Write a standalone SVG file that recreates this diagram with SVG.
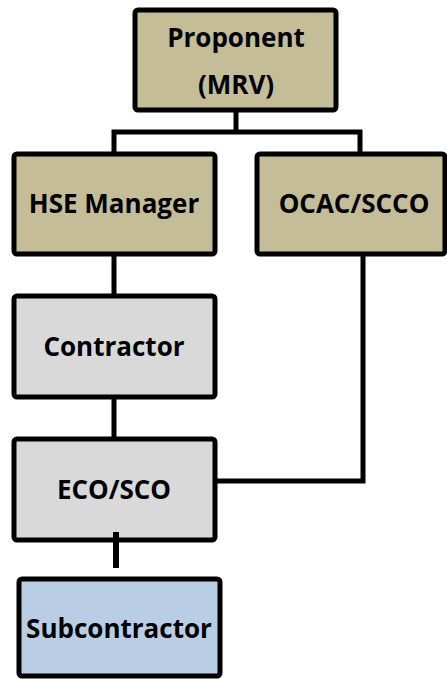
<svg xmlns="http://www.w3.org/2000/svg" width="447" height="679" viewBox="0 0 447 679">
<style>
.box{stroke:#000;stroke-width:5;}
.tan{fill:#C4BD97;}
.gray{fill:#D9D9D9;}
.blue{fill:#B9CDE5;}
.lbl{font-family:"Open Sans","Liberation Sans",sans-serif;font-weight:bold;font-size:26px;fill:#000;text-anchor:middle;dominant-baseline:central;}
.ln{stroke:#000;stroke-width:5;fill:none;}
</style>
<rect width="447" height="679" fill="#fff"/>
<g id="connectors">
<line class="ln" x1="236" y1="110" x2="236" y2="132"/>
<polyline class="ln" points="114,154 114,132 360,132 360,154"/>
<line class="ln" x1="114" y1="254" x2="114" y2="296"/>
<line class="ln" x1="114" y1="397" x2="114" y2="439"/>
<polyline class="ln" points="363,246 363,481 215,481"/>
<line class="ln" style="stroke-width:6" x1="116" y1="532" x2="116" y2="568"/>
</g>
<g id="proponent">
<rect class="box tan" x="135" y="10" width="201" height="100" rx="3"/>
<text class="lbl" x="236" y="37">Proponent</text>
<text class="lbl" x="236" y="84">(MRV)</text>
</g>
<g id="hse">
<rect class="box tan" x="14" y="154" width="201" height="100" rx="3"/>
<text class="lbl" x="114" y="203">HSE Manager</text>
</g>
<g id="ocac">
<rect class="box tan" x="257" y="154" width="188" height="100" rx="3"/>
<text class="lbl" x="354" y="203">OCAC/SCCO</text>
</g>
<g id="contractor">
<rect class="box gray" x="14" y="296" width="201" height="101" rx="3"/>
<text class="lbl" x="114" y="346">Contractor</text>
</g>
<g id="eco">
<rect class="box gray" x="14" y="439" width="201" height="101" rx="3"/>
<text class="lbl" x="114" y="489">ECO/SCO</text>
</g>
<line class="ln" style="stroke-width:6" x1="116" y1="532" x2="116" y2="538"/>
<g id="subcontractor">
<rect class="box blue" x="19" y="579" width="201" height="97" rx="3"/>
<text class="lbl" x="119" y="628">Subcontractor</text>
</g>
</svg>
